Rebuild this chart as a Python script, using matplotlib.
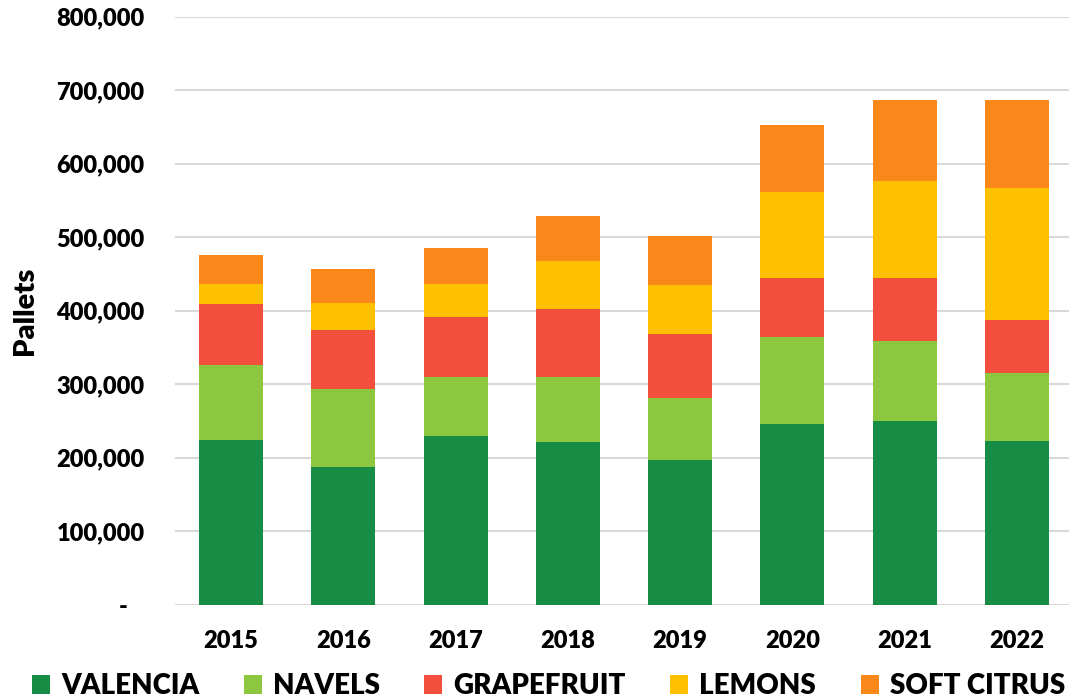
import matplotlib
matplotlib.use('Agg')
import numpy as np
from matplotlib import pyplot as plt
from matplotlib.ticker import FuncFormatter

# Data (pallets)
years = ['2015', '2016', '2017', '2018', '2019', '2020', '2021', '2022']
valencia = [224000, 188000, 229000, 222000, 197000, 246000, 250000, 223000]
navels = [102000, 106000, 81000, 88000, 84000, 118000, 109000, 92000]
grapefruit = [83000, 80000, 82000, 92000, 88000, 81000, 85000, 73000]
lemons = [28000, 36000, 44000, 66000, 66000, 116000, 133000, 179000]
soft_citrus = [39000, 47000, 50000, 61000, 67000, 92000, 110000, 120000]

series = [valencia, navels, grapefruit, lemons, soft_citrus]
names = ['VALENCIA', 'NAVELS', 'GRAPEFRUIT', 'LEMONS', 'SOFT CITRUS']
colors = ['#168C44', '#8DC63F', '#F2503C', '#FFC000', '#FA8719']

plt.rcParams['font.family'] = ['Lato', 'DejaVu Sans']
plt.rcParams['font.weight'] = 'heavy'

fig = plt.figure(figsize=(10.69, 7), dpi=100)
ax = fig.add_axes([175 / 1069, 0.1361, 898 / 1069, 0.840])

x = np.arange(len(years))
bottom = np.zeros(len(years))
for vals, name, c in zip(series, names, colors):
    ax.bar(x, vals, width=0.57, bottom=bottom, color=c, label=name, zorder=3)
    bottom += np.array(vals)

ax.set_xlim(-0.5, 7.5)
ax.set_ylim(0, 800000)
ax.set_yticks(np.arange(0, 800001, 100000))
ax.yaxis.set_major_formatter(FuncFormatter(lambda v, p: '-   ' if v == 0 else f'{v:,.0f}'))
ax.set_xticks(x)
ax.set_xticklabels(years)

ax.grid(axis='y', color='#D9D9D9', linewidth=1.5, zorder=0)
for s in ax.spines.values():
    s.set_visible(False)
ax.tick_params(length=0)
ax.tick_params(axis='y', pad=22, labelsize=17)
ax.tick_params(axis='x', pad=18, labelsize=17)
for lab in ax.get_xticklabels() + ax.get_yticklabels():
    lab.set_fontweight('heavy')

ax.set_ylabel('Pallets', fontsize=21, fontweight='heavy')
ax.yaxis.set_label_coords(-137 / 898, 0.5)

leg = fig.legend(loc='lower center', bbox_to_anchor=(0.513, -0.035), ncol=5,
                 frameon=False, prop={'size': 20, 'weight': 'heavy'},
                 handlelength=0.65, handleheight=0.65, handletextpad=0.4,
                 columnspacing=1.6)

fig.savefig('out.png', dpi=100)
